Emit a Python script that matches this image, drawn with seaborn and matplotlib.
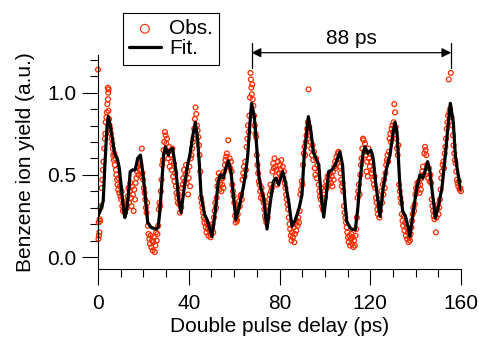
import matplotlib
matplotlib.use("Agg")
import matplotlib.pyplot as plt
from matplotlib.ticker import MultipleLocator
import seaborn as sns
import pandas as pd

# ---------------- data ----------------
fit_delay = [0.0, 1.0, 2.3, 3.0, 4.0, 4.6, 5.4, 6.3, 7.3, 8.5, 9.4, 10.3, 11.0, 11.8,
             12.6, 13.4, 14.2, 15.3, 16.4, 17.5, 18.7, 19.7, 20.9, 21.9, 23.4, 25.6, 26.5,
             27.2, 27.8, 28.9, 29.7, 30.4, 31.0, 31.7, 32.9, 34.4, 35.5, 36.6, 38.0, 39.5,
             40.5, 41.8, 42.9, 43.9, 44.7, 45.4, 46.9, 48.3, 49.3, 50.2, 51.0, 51.7, 53.0,
             53.9, 55.2, 56.1, 57.4, 58.6, 59.8, 60.8, 62.3, 64.0, 65.0, 66.0, 66.9, 67.7,
             68.9, 69.9, 70.8, 71.8, 73.0, 73.8, 74.5, 75.8, 77.3, 78.4, 79.6, 81.4, 82.5,
             84.0, 85.5, 87.0, 88.7, 89.9, 90.9, 92.7, 93.9, 94.9, 96.1, 97.3, 98.3, 99.5,
             100.5, 101.7, 103.1, 104.6, 106.1, 106.6, 107.8, 108.6, 109.6, 111.5, 113.4,
             114.4, 115.5, 116.7, 117.7, 118.9, 120.3, 121.3, 122.5, 124.3, 125.7, 127.2,
             128.7, 129.9, 130.9, 131.8, 132.5, 133.1, 134.3, 135.7, 137.5, 139.0, 140.5,
             141.9, 143.1, 144.1, 145.3, 146.3, 147.5, 148.7, 150.2, 151.6, 153.1, 154.3,
             155.3, 156.6, 157.5, 158.5, 160.0]
fit_yield = [0.25, 0.28, 0.34, 0.55, 0.80, 0.855, 0.80, 0.72, 0.63, 0.60, 0.54, 0.42, 0.32, 0.24,
             0.28, 0.38, 0.52, 0.53, 0.53, 0.60, 0.62, 0.52, 0.36, 0.21, 0.18, 0.17, 0.18,
             0.27, 0.38, 0.62, 0.67, 0.64, 0.62, 0.65, 0.66, 0.52, 0.36, 0.27, 0.42, 0.56,
             0.62, 0.74, 0.82, 0.72, 0.56, 0.38, 0.26, 0.22, 0.17, 0.125, 0.20, 0.28, 0.46,
             0.50, 0.48, 0.53, 0.585, 0.52, 0.36, 0.227, 0.31, 0.42, 0.50, 0.62, 0.80, 0.935,
             0.854, 0.68, 0.50, 0.42, 0.36, 0.26, 0.17, 0.32, 0.46, 0.48, 0.44, 0.52, 0.46,
             0.34, 0.186, 0.227, 0.30, 0.38, 0.62, 0.854, 0.76, 0.64, 0.60, 0.56, 0.38, 0.243,
             0.36, 0.52, 0.53, 0.56, 0.62, 0.64, 0.56, 0.38, 0.216, 0.17, 0.166,
             0.28, 0.46, 0.62, 0.67, 0.63, 0.65, 0.60, 0.44, 0.247, 0.42, 0.54,
             0.62, 0.74, 0.82, 0.76, 0.58, 0.42, 0.28, 0.24, 0.125, 0.28, 0.42,
             0.50, 0.48, 0.52, 0.58, 0.52, 0.38, 0.237, 0.32, 0.42, 0.62, 0.80,
             0.935, 0.82, 0.62, 0.52, 0.41]

obs_delay = [
    0.0, 0.2, 0.4, 0.6, 0.3, 0.7, 0.9, 1.1, 1.3, 1.6, 1.9, 2.1, 2.4, 2.7, 3.0,
    3.2, 3.4, 3.7, 3.9, 4.1, 4.3, 4.5, 4.7, 4.4, 4.6, 4.9, 5.1, 5.4, 5.7, 6.0,
    6.3, 6.5, 6.7, 7.0, 7.2, 7.4, 7.6, 7.9, 8.1, 8.4, 8.6, 8.9, 9.1, 9.4, 9.6,
    9.9, 10.2, 10.4, 10.7, 11.0, 11.3, 11.6, 11.9, 12.2, 12.5, 12.8, 13.1, 13.4, 13.7, 14.0,
    14.3, 14.5, 14.8, 15.1, 15.4, 15.7, 16.0, 16.3, 16.6, 16.9, 17.2, 17.5, 17.8, 18.1, 18.4,
    18.7, 19.0, 19.3, 19.6, 19.9, 20.2, 20.5, 20.8, 21.1, 21.4, 21.7, 22.0, 22.3, 22.6, 22.9,
    23.2, 23.5, 23.8, 24.1, 24.4, 24.7, 25.0, 25.3, 25.6, 25.9, 26.2, 26.5, 26.8, 27.1, 27.4,
    27.7, 28.0, 28.3, 28.6, 28.9, 29.2, 29.5, 29.8, 30.1, 30.4, 30.7, 31.0, 31.3, 31.6, 31.9,
    32.2, 32.5, 32.8, 33.1, 33.4, 33.7, 34.0, 34.3, 34.6, 34.9, 35.2, 35.5, 35.8, 36.1, 36.4,
    36.7, 37.0, 37.3, 37.6, 37.9, 38.2, 38.5, 38.8, 39.1, 39.4, 39.7, 40.0, 40.3, 40.6, 40.9,
    41.2, 41.5, 41.8, 42.1, 42.4, 42.7, 43.0, 43.3, 43.6, 43.9, 44.2, 44.5, 44.8, 45.1, 45.4,
    45.7, 46.0, 46.3, 46.6, 46.9, 47.2, 47.5, 47.8, 48.1, 48.4, 48.7, 49.0, 49.3, 49.6, 49.9,
    50.2, 50.5, 50.8, 51.1, 51.4, 51.7, 52.0, 52.3, 52.6, 52.9, 53.2, 53.5, 53.8, 54.1, 54.4,
    54.7, 55.0, 55.3, 55.6, 55.9, 56.2, 56.5, 56.8, 57.1, 57.4, 57.7, 58.0, 58.3, 58.6, 58.9,
    59.2, 59.5, 59.8, 60.1, 60.4, 60.7, 61.0, 61.3, 61.6, 61.9, 62.2, 62.5, 62.8, 63.1, 63.4,
    63.7, 64.0, 64.3, 64.6, 64.9, 65.2, 65.5, 65.8, 66.1, 66.4, 66.7, 67.0, 67.2, 67.4, 67.6,
    67.8, 68.0, 68.2, 68.5, 68.8, 69.1, 69.4, 69.7, 70.0, 70.3, 70.6, 70.9, 71.2, 71.5, 71.8,
    72.1, 72.4, 72.7, 73.0, 73.3, 73.6, 73.9, 74.2, 74.5, 74.8, 75.1, 75.4, 75.7, 76.0, 76.3,
    76.6, 76.9, 77.2, 77.5, 77.8, 78.1, 78.4, 78.7, 79.0, 79.3, 79.6, 79.9, 80.2, 80.5, 80.8,
    81.1, 81.4, 81.7, 82.0, 82.3, 82.6, 82.9, 83.2, 83.5, 83.8, 84.1, 84.4, 84.7, 85.0, 85.3,
    85.6, 85.9, 86.2, 86.5, 86.8, 87.1, 87.4, 87.7, 88.0, 88.3, 88.6, 88.9, 89.2, 89.5, 89.8,
    90.1, 90.4, 90.7, 91.0, 91.3, 91.6, 91.9, 92.2, 92.5, 92.8, 93.1, 93.4, 93.7, 94.0, 94.3,
    94.6, 94.9, 95.2, 95.5, 95.8, 96.1, 96.4, 96.7, 97.0, 97.3, 97.6, 97.9, 98.2, 98.5, 98.8,
    99.1, 99.4, 99.7, 100.0, 100.3, 100.6, 100.9, 101.2, 101.5, 101.8, 102.1, 102.4, 102.7, 103.0, 103.3,
    103.6, 103.9, 104.2, 104.5, 104.8, 105.1, 105.4, 105.7, 106.0, 106.3, 106.6, 106.9, 107.2, 107.5, 107.8,
    108.1, 108.4, 108.7, 109.0, 109.3, 109.6, 109.9, 110.2, 110.5, 110.8, 111.1, 111.4, 111.7, 112.0, 112.3,
    112.6, 112.9, 113.2, 113.5, 113.8, 114.1, 114.4, 114.7, 115.0, 115.3, 115.6, 115.9, 116.2, 116.5, 116.8,
    117.1, 117.4, 117.7, 118.0, 118.3, 118.6, 118.9, 119.2, 119.5, 119.8, 120.1, 120.4, 120.7, 121.0, 121.3,
    121.6, 121.9, 122.2, 122.5, 122.8, 123.1, 123.4, 123.7, 124.0, 124.3, 124.6, 124.9, 125.2, 125.5, 125.8,
    126.1, 126.4, 126.7, 127.0, 127.3, 127.6, 127.9, 128.2, 128.5, 128.8, 129.1, 129.4, 129.7, 130.0, 130.3,
    130.6, 130.9, 131.2, 131.5, 131.8, 132.1, 132.4, 132.7, 133.0, 133.3, 133.6, 133.9, 134.2, 134.5, 134.8,
    135.1, 135.4, 135.7, 136.0, 136.3, 136.6, 136.9, 137.2, 137.5, 137.8, 138.1, 138.4, 138.7, 139.0, 139.3,
    139.6, 139.9, 140.2, 140.5, 140.8, 141.1, 141.4, 141.7, 142.0, 142.3, 142.6, 142.9, 143.2, 143.5, 143.8,
    144.1, 144.4, 144.7, 145.0, 145.3, 145.6, 145.9, 146.2, 146.5, 146.8, 147.1, 147.4, 147.7, 148.0, 148.3,
    148.6, 148.9, 149.2, 149.5, 149.8, 150.1, 150.4, 150.7, 151.0, 151.3, 151.6, 151.9, 152.2, 152.5, 152.8,
    153.1, 153.4, 153.7, 154.0, 154.3, 154.6, 154.9, 155.2, 155.5, 155.8, 156.1, 156.4, 156.7, 157.0, 157.3,
    157.6, 157.9, 158.2, 158.5, 158.8, 159.1, 159.4, 159.7, 160.0]
obs_yield = [
    1.14, 0.11, 0.13, 0.15, 0.21, 0.23, 0.22, 0.30, 0.31, 0.42, 0.47, 0.53, 0.58, 0.66, 0.72,
    0.75, 0.82, 0.85, 0.88, 0.93, 1.03, 1.00, 1.02, 0.96, 0.89, 0.84, 0.80, 0.78, 0.75, 0.72,
    0.69, 0.66, 0.62, 0.59, 0.63, 0.56, 0.60, 0.53, 0.50, 0.47, 0.44, 0.41, 0.48, 0.39, 0.43,
    0.37, 0.35, 0.40, 0.31, 0.28, 0.33, 0.29, 0.27, 0.31, 0.34, 0.30, 0.37, 0.42, 0.33, 0.40,
    0.45, 0.36, 0.31, 0.43, 0.38, 0.28, 0.41, 0.35, 0.45, 0.48, 0.52, 0.55, 0.50, 0.57, 0.53,
    0.56, 0.49, 0.66, 0.51, 0.47, 0.42, 0.39, 0.35, 0.30, 0.27, 0.33, 0.19, 0.14, 0.11, 0.08,
    0.13, 0.06, 0.10, 0.04, 0.09, 0.12, 0.03, 0.07, 0.15, 0.10, 0.14, 0.19, 0.29, 0.33, 0.31,
    0.40, 0.47, 0.56, 0.59, 0.65, 0.70, 0.76, 0.74, 0.69, 0.72, 0.64, 0.60, 0.67, 0.55, 0.62,
    0.58, 0.53, 0.66, 0.49, 0.57, 0.46, 0.51, 0.43, 0.39, 0.36, 0.33, 0.38, 0.32, 0.27, 0.34,
    0.30, 0.42, 0.44, 0.48, 0.53, 0.46, 0.50, 0.56, 0.45, 0.52, 0.38, 0.48, 0.55, 0.43, 0.60,
    0.62, 0.66, 0.70, 0.72, 0.78, 0.84, 0.91, 0.87, 0.80, 0.77, 0.73, 0.68, 0.62, 0.52, 0.36,
    0.33, 0.30, 0.27, 0.24, 0.21, 0.23, 0.18, 0.15, 0.20, 0.17, 0.13, 0.19, 0.16, 0.12, 0.14,
    0.17, 0.20, 0.15, 0.24, 0.28, 0.33, 0.30, 0.36, 0.43, 0.47, 0.51, 0.41, 0.45, 0.49, 0.40,
    0.44, 0.48, 0.42, 0.52, 0.56, 0.59, 0.61, 0.63, 0.57, 0.71, 0.55, 0.60, 0.54, 0.58, 0.52,
    0.44, 0.40, 0.37, 0.33, 0.25, 0.21, 0.23, 0.22, 0.26, 0.30, 0.34, 0.31, 0.37, 0.38, 0.35,
    0.47, 0.51, 0.55, 0.49, 0.58, 0.53, 0.67, 0.72, 0.80, 0.76, 0.86, 0.97, 1.12, 1.08, 1.03,
    0.99, 1.05, 0.96, 0.92, 0.86, 0.80, 0.75, 0.73, 0.62, 0.56, 0.51, 0.46, 0.44, 0.40, 0.36,
    0.42, 0.38, 0.35, 0.33, 0.29, 0.25, 0.23, 0.21, 0.27, 0.24, 0.31, 0.35, 0.38, 0.44, 0.40,
    0.42, 0.52, 0.57, 0.54, 0.60, 0.55, 0.49, 0.53, 0.44, 0.58, 0.47, 0.51, 0.56, 0.53, 0.59,
    0.50, 0.55, 0.48, 0.52, 0.45, 0.42, 0.38, 0.35, 0.32, 0.29, 0.24, 0.20, 0.17, 0.13, 0.10,
    0.15, 0.12, 0.18, 0.09, 0.14, 0.20, 0.16, 0.22, 0.19, 0.24, 0.21, 0.28, 0.38, 0.41, 0.46,
    0.44, 0.56, 0.63, 0.67, 0.62, 0.70, 0.74, 0.78, 0.82, 1.02, 0.79, 0.74, 0.70, 0.66, 0.62,
    0.68, 0.59, 0.64, 0.54, 0.50, 0.60, 0.48, 0.56, 0.52, 0.44, 0.40, 0.37, 0.35, 0.42, 0.31,
    0.29, 0.33, 0.38, 0.36, 0.43, 0.46, 0.42, 0.49, 0.44, 0.50, 0.47, 0.51, 0.45, 0.49, 0.43,
    0.52, 0.47, 0.55, 0.58, 0.54, 0.61, 0.57, 0.63, 0.64, 0.60, 0.55, 0.51, 0.47, 0.43, 0.45,
    0.40, 0.31, 0.27, 0.24, 0.21, 0.18, 0.15, 0.12, 0.09, 0.13, 0.07, 0.11, 0.14, 0.08, 0.12,
    0.06, 0.10, 0.07, 0.13, 0.17, 0.24, 0.36, 0.40, 0.44, 0.38, 0.50, 0.56, 0.60, 0.66, 0.72,
    0.71, 0.64, 0.69, 0.62, 0.52, 0.58, 0.49, 0.66, 0.60, 0.55, 0.63, 0.58, 0.51, 0.53, 0.47,
    0.44, 0.49, 0.42, 0.36, 0.33, 0.29, 0.26, 0.31, 0.24, 0.28, 0.35, 0.40, 0.33, 0.44, 0.38,
    0.47, 0.42, 0.51, 0.56, 0.59, 0.62, 0.58, 0.64, 0.72, 0.75, 0.70, 0.78, 0.80, 0.76, 0.82,
    0.93, 0.88, 0.79, 0.72, 0.66, 0.62, 0.68, 0.44, 0.40, 0.36, 0.33, 0.26, 0.22, 0.19, 0.25,
    0.16, 0.21, 0.13, 0.18, 0.11, 0.15, 0.09, 0.12, 0.10, 0.14, 0.18, 0.22, 0.26, 0.30, 0.28,
    0.32, 0.38, 0.42, 0.40, 0.45, 0.43, 0.46, 0.39, 0.44, 0.41, 0.48, 0.52, 0.55, 0.50, 0.63,
    0.67, 0.65, 0.62, 0.56, 0.52, 0.48, 0.54, 0.46, 0.50, 0.45, 0.35, 0.31, 0.28, 0.25, 0.23,
    0.27, 0.15, 0.24, 0.29, 0.32, 0.26, 0.30, 0.35, 0.41, 0.48, 0.52, 0.56, 0.58, 0.54, 0.63,
    0.67, 0.72, 0.78, 0.82, 0.86, 1.08, 0.88, 0.90, 1.12, 0.85, 0.80, 0.74, 0.68, 0.63, 0.59,
    0.57, 0.52, 0.47, 0.45, 0.43, 0.46, 0.41, 0.42, 0.40]

x_ticks = [0, 40, 80, 120, 160]
y_ticks = [0.0, 0.5, 1.0]
x_label = "Double pulse delay (ps)"
y_label = "Benzene ion yield (a.u.)"
legend_labels = ["Obs.", "Fit."]
period_start = 67.7
period_end = 155.7
period_text = "88 ps"

# ---------------- style ----------------
sns.set_style("ticks")
plt.rcParams["font.family"] = ["Liberation Sans", "DejaVu Sans"]
plt.rcParams["font.size"] = 15
for key in ["text.color", "axes.labelcolor", "xtick.color", "ytick.color",
            "axes.edgecolor"]:
    plt.rcParams[key] = "black"

obs_df = pd.DataFrame({"delay": obs_delay, "yield": obs_yield})
fit_df = pd.DataFrame({"delay": fit_delay, "yield": fit_yield})

fig = plt.figure(figsize=(4.79, 3.40), dpi=100)
ax = fig.add_axes([98 / 479, 71 / 340, 363 / 479, 214 / 340])

red = "#ff2a00"
sns.scatterplot(data=obs_df, x="delay", y="yield", ax=ax, marker="o",
                facecolor="none", edgecolor=red, linewidth=0.9, s=12,
                label=legend_labels[0], legend=False, zorder=2, clip_on=False)
sns.lineplot(data=fit_df, x="delay", y="yield", ax=ax, color="black",
             linewidth=2.3, sort=False, estimator=None, label=legend_labels[1],
             legend=False, zorder=3)

ax.set_xlim(0, 160)
ax.set_ylim(-0.073, 1.229)
ax.set_xticks(x_ticks)
ax.set_yticks(y_ticks)
ax.set_yticklabels([f"{v:.1f}" for v in y_ticks])
ax.xaxis.set_minor_locator(MultipleLocator(10))
ax.yaxis.set_minor_locator(MultipleLocator(0.1))
ax.tick_params(which="major", length=11.2, width=0.8, direction="out", labelsize=15,
               color="black", labelcolor="black")
ax.tick_params(which="minor", length=5.5, width=0.8, direction="out", color="black")
ax.tick_params(axis="x", which="major", pad=7)
ax.tick_params(axis="y", which="major", pad=4.5)
for side in ["top", "right"]:
    ax.spines[side].set_visible(False)
for side in ["left", "bottom"]:
    ax.spines[side].set_linewidth(0.8)
    ax.spines[side].set_color("black")
ax.set_xlabel(x_label, fontsize=15, labelpad=2.5, color="black")
ax.set_ylabel(y_label, fontsize=15, labelpad=8.5, color="black")
ax.grid(False)

# period annotation
ann_y = 1.243
ax.annotate("", xy=(period_start, ann_y), xytext=(period_end, ann_y),
            xycoords="data", textcoords="data", annotation_clip=False,
            arrowprops=dict(arrowstyle="<|-|>", color="black", lw=0.9,
                            mutation_scale=14, shrinkA=0, shrinkB=0))
for xv in (period_start, period_end):
    ax.plot([xv, xv], [1.150, 1.302], color="black", lw=0.9, clip_on=False)
ax.text((period_start + period_end) / 2, 1.27, period_text, ha="center",
        va="bottom", fontsize=15, color="black")

# legend
handles, labels = ax.get_legend_handles_labels()
leg = ax.legend(handles, labels, loc="upper left",
                bbox_to_anchor=(123 / 479, 1 - 13 / 340),
                bbox_transform=fig.transFigure, frameon=True, fancybox=False,
                edgecolor="black", framealpha=1, fontsize=15, labelspacing=0.05,
                handlelength=1.5, handletextpad=0.4, borderpad=0.3,
                borderaxespad=0, scatterpoints=1)
leg.get_frame().set_linewidth(0.8)
leg.legend_handles[0].set_sizes([40])
leg.legend_handles[0].set_linewidth(0.8)

fig.savefig("out.png", dpi=100)
